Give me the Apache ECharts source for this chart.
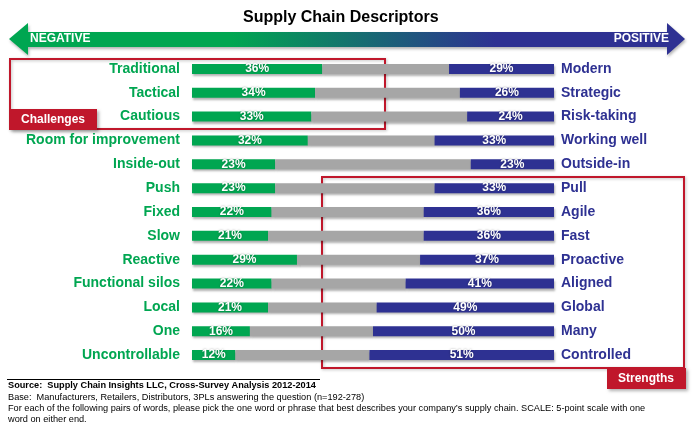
<!DOCTYPE html>
<html>
<head>
<meta charset="utf-8">
<title>Supply Chain Descriptors</title>
<script src="https://cdn.jsdelivr.net/npm/echarts@6/dist/echarts.min.js"></script>
<style>
  html, body { margin: 0; padding: 0; background: #fff; }
  #chart { width: 700px; height: 431px; }
</style>
</head>
<body>
<div id="chart"></div>
<script>
// left-hand words (negative end) and right-hand words (positive end)
const leftWords = ['Traditional', 'Tactical', 'Cautious', 'Room for improvement', 'Inside-out', 'Push', 'Fixed', 'Slow', 'Reactive', 'Functional silos', 'Local', 'One', 'Uncontrollable']
const rightWords = ['Modern', 'Strategic', 'Risk-taking', 'Working well', 'Outside-in', 'Pull', 'Agile', 'Fast', 'Proactive', 'Aligned', 'Global', 'Many', 'Controlled']
const negative = [36, 34, 33, 32, 23, 23, 22, 21, 29, 22, 21, 16, 12]
const positive = [29, 26, 24, 33, 23, 33, 36, 36, 37, 41, 49, 50, 51]
// whatever is left in the middle of the 5-point scale
const neutral = negative.map((v, i) => 100 - v - positive[i])

const GREEN = '#00a651'
const BLUE = '#2e3192'
const GRAY = '#a6a6a6'
const RED = '#c0172b'
const FONT = '"Liberation Sans", Arial, sans-serif'

const barShadow = { shadowColor: 'rgba(0,0,0,0.3)', shadowBlur: 2, shadowOffsetX: 1, shadowOffsetY: 2 }
const pctLabel = {
  show: true,
  position: 'inside',
  formatter: '{c}%',
  color: '#fff',
  fontFamily: FONT,
  fontWeight: 'bold',
  fontSize: 12,
  textShadowColor: 'rgba(0,0,0,0.35)',
  textShadowBlur: 2
}

const chart = echarts.init(document.getElementById('chart'))

chart.setOption({
  animation: false,
  title: {
    text: 'Supply Chain Descriptors',
    left: 238,
    top: 5,
    textStyle: { fontFamily: FONT, fontSize: 16, fontWeight: 'bold', color: '#000' }
  },
  grid: { left: 192, right: 146, top: 57, bottom: 64 },
  xAxis: { type: 'value', min: 0, max: 100, show: false },
  yAxis: [
    {
      type: 'category',
      data: leftWords,
      inverse: true,
      axisLine: { show: false },
      axisTick: { show: false },
      axisLabel: { margin: 12, color: GREEN, fontFamily: FONT, fontWeight: 'bold', fontSize: 14 }
    },
    {
      type: 'category',
      data: rightWords,
      inverse: true,
      position: 'right',
      axisLine: { show: false },
      axisTick: { show: false },
      axisLabel: { margin: 7, color: BLUE, fontFamily: FONT, fontWeight: 'bold', fontSize: 14 }
    }
  ],
  series: [
    {
      type: 'bar', stack: 'all', barWidth: 10, data: negative,
      itemStyle: Object.assign({ color: GREEN }, barShadow),
      label: pctLabel
    },
    {
      type: 'bar', stack: 'all', barWidth: 10, data: neutral,
      itemStyle: Object.assign({ color: GRAY }, barShadow)
    },
    {
      type: 'bar', stack: 'all', barWidth: 10, data: positive,
      itemStyle: Object.assign({ color: BLUE }, barShadow),
      label: pctLabel
    }
  ],
  graphic: [
    // negative / positive arrow
    {
      type: 'polygon',
      shape: {
        points: [[9, 39], [28, 23], [28, 32], [667, 32], [667, 23], [685, 39], [667, 55], [667, 47], [28, 47], [28, 55]]
      },
      style: {
        fill: new echarts.graphic.LinearGradient(0, 0, 1, 0, [
          { offset: 0, color: GREEN },
          { offset: 0.33, color: GREEN },
          { offset: 0.72, color: BLUE },
          { offset: 1, color: BLUE }
        ]),
        shadowColor: 'rgba(0,0,0,0.3)', shadowBlur: 3, shadowOffsetX: 1, shadowOffsetY: 2
      }
    },
    { type: 'text', left: 30, top: 33, style: { text: 'NEGATIVE', fill: '#fff', font: 'bold 12px ' + FONT } },
    { type: 'text', right: 31, top: 33, style: { text: 'POSITIVE', fill: '#fff', font: 'bold 12px ' + FONT } },

    // challenges box
    {
      type: 'rect', shape: { x: 10, y: 59, width: 375, height: 70 },
      style: { fill: null, stroke: RED, lineWidth: 2, shadowColor: 'rgba(0,0,0,0.25)', shadowBlur: 3, shadowOffsetX: 1, shadowOffsetY: 1 }
    },
    {
      type: 'rect', shape: { x: 10, y: 109, width: 87, height: 21 },
      style: { fill: RED, shadowColor: 'rgba(0,0,0,0.3)', shadowBlur: 3, shadowOffsetX: 2, shadowOffsetY: 2 }
    },
    { type: 'text', x: 53, y: 120, style: { text: 'Challenges', fill: '#fff', font: 'bold 12px ' + FONT, align: 'center', verticalAlign: 'middle' } },

    // strengths box
    {
      type: 'rect', shape: { x: 322, y: 177, width: 362, height: 191 },
      style: { fill: null, stroke: RED, lineWidth: 2, shadowColor: 'rgba(0,0,0,0.25)', shadowBlur: 3, shadowOffsetX: 1, shadowOffsetY: 1 }
    },
    {
      type: 'rect', shape: { x: 607, y: 368, width: 79, height: 21 },
      style: { fill: RED, shadowColor: 'rgba(0,0,0,0.3)', shadowBlur: 3, shadowOffsetX: 2, shadowOffsetY: 2 }
    },
    { type: 'text', x: 646, y: 379, style: { text: 'Strengths', fill: '#fff', font: 'bold 12px ' + FONT, align: 'center', verticalAlign: 'middle' } },

    // footnotes
    { type: 'line', shape: { x1: 7, y1: 379.5, x2: 320, y2: 379.5 }, style: { stroke: '#000', lineWidth: 1 } },
    { type: 'text', left: 8, top: 381, style: { text: 'Source:  Supply Chain Insights LLC, Cross-Survey Analysis 2012-2014', fill: '#000', font: 'bold 9.2px ' + FONT } },
    { type: 'text', left: 8, top: 393, style: { text: 'Base:  Manufacturers, Retailers, Distributors, 3PLs answering the question (n=192-278)', fill: '#000', font: '9.2px ' + FONT } },
    { type: 'text', left: 8, top: 404, style: { text: 'For each of the following pairs of words, please pick the one word or phrase that best describes your company\u2019s supply chain. SCALE: 5-point scale with one', fill: '#000', font: '9.2px ' + FONT } },
    { type: 'text', left: 8, top: 415, style: { text: 'word on either end.', fill: '#000', font: '9.2px ' + FONT } }
  ]
})
</script>
</body>
</html>
